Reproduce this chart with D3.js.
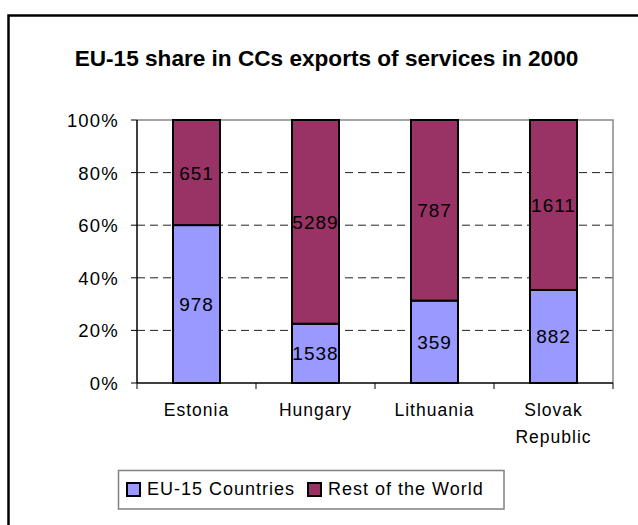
<!DOCTYPE html>
<html>
<head>
<meta charset="utf-8">
<script src="https://cdn.jsdelivr.net/npm/d3@7"></script>
<style>
    body { margin: 0; background: #fff; }
    svg { display: block; font-family: Arial, "Liberation Sans", sans-serif; }
</style>
</head>
<body>
<svg id="chart" width="638" height="525"></svg>
<script>
// Data
const categories = ['Estonia', 'Hungary', 'Lithuania', 'Slovak Republic'];
const eu15 = [978, 1538, 359, 882];
const restOfWorld = [651, 5289, 787, 1611];
const seriesNames = ['EU-15 Countries', 'Rest of the World'];
const seriesColors = ['#9999ff', '#993366'];
const yTicks = [0, 0.2, 0.4, 0.6, 0.8, 1];

const svg = d3.select('#chart');

// outer frame (cut off at right and bottom in the original)
svg.append('rect')
    .attr('x', 8.5).attr('y', 15.5)
    .attr('width', 660).attr('height', 540)
    .attr('fill', 'none')
    .attr('stroke', '#000')
    .attr('stroke-width', 2.5);

// title
svg.append('text')
    .attr('x', 326.5).attr('y', 66)
    .attr('text-anchor', 'middle')
    .attr('font-size', 22.6)
    .attr('font-weight', 'bold')
    .text('EU-15 share in CCs exports of services in 2000');

const plot = { left: 137, right: 613, top: 120, bottom: 383 };

const x = d3.scaleBand()
    .domain(categories)
    .range([plot.left, plot.right])
    .paddingInner(0.605)
    .paddingOuter(0.3025);

const y = d3.scaleLinear().domain([0, 1]).range([plot.bottom, plot.top]);

const rows = categories.map((c, i) => ({ cat: c, eu: eu15[i], rest: restOfWorld[i] }));
const stacked = d3.stack().keys(['eu', 'rest']).offset(d3.stackOffsetExpand)(rows);

// gridlines
svg.append('g')
    .selectAll('line')
    .data(yTicks.filter(t => t > 0 && t < 1))
    .join('line')
    .attr('x1', plot.left).attr('x2', plot.right)
    .attr('y1', d => y(d)).attr('y2', d => y(d))
    .attr('stroke', '#222')
    .attr('stroke-width', 1)
    .attr('stroke-dasharray', '8,5');

// plot border top/right (grey)
svg.append('path')
    .attr('d', `M${plot.left},${y(1)}H${plot.right}V${plot.bottom}`)
    .attr('fill', 'none')
    .attr('stroke', '#888')
    .attr('stroke-width', 1.5);

// bars
const layer = svg.append('g')
    .selectAll('g')
    .data(stacked)
    .join('g')
    .attr('fill', (d, i) => seriesColors[i]);

layer.selectAll('rect')
    .data(d => d)
    .join('rect')
    .attr('x', d => x(d.data.cat))
    .attr('width', x.bandwidth())
    .attr('y', d => y(d[1]))
    .attr('height', d => y(d[0]) - y(d[1]))
    .attr('stroke', '#000')
    .attr('stroke-width', 2);

// value labels
layer.selectAll('text')
    .data((d, i) => d.map(v => ({ v, key: d.key })))
    .join('text')
    .attr('x', d => x(d.v.data.cat) + x.bandwidth() / 2)
    .attr('y', d => (y(d.v[0]) + y(d.v[1])) / 2 + 7)
    .attr('text-anchor', 'middle')
    .attr('fill', '#000')
    .attr('font-size', 19)
    .attr('letter-spacing', 1)
    .text(d => d.v.data[d.key]);

// y axis
const yAxis = svg.append('g').attr('transform', `translate(${plot.left},0)`);
yAxis.append('line')
    .attr('y1', plot.top).attr('y2', plot.bottom)
    .attr('stroke', '#000').attr('stroke-width', 1.5);
yAxis.selectAll('line.tick')
    .data(yTicks)
    .join('line')
    .attr('class', 'tick')
    .attr('x1', -6).attr('x2', 0)
    .attr('y1', d => y(d)).attr('y2', d => y(d))
    .attr('stroke', '#000');
yAxis.selectAll('text')
    .data(yTicks)
    .join('text')
    .attr('x', -18)
    .attr('y', d => y(d) + 7)
    .attr('text-anchor', 'end')
    .attr('font-size', 18.5)
    .attr('letter-spacing', 1.2)
    .text(d => d3.format('.0%')(d));

// x axis
const xAxis = svg.append('g');
xAxis.append('line')
    .attr('x1', plot.left).attr('x2', plot.right)
    .attr('y1', plot.bottom).attr('y2', plot.bottom)
    .attr('stroke', '#000').attr('stroke-width', 1.5);
const edges = categories.map(c => x(c) - x.step() * x.paddingInner() / 2)
    .concat([plot.right]);
xAxis.selectAll('line.tick')
    .data(edges)
    .join('line')
    .attr('class', 'tick')
    .attr('x1', d => d).attr('x2', d => d)
    .attr('y1', plot.bottom).attr('y2', plot.bottom + 6)
    .attr('stroke', '#000');
xAxis.selectAll('text')
    .data(categories)
    .join('text')
    .attr('x', d => x(d) + x.bandwidth() / 2)
    .attr('y', 416)
    .attr('text-anchor', 'middle')
    .attr('font-size', 17.5)
    .attr('letter-spacing', 1)
    .each(function (d) {
        const words = d.split(' ');
        d3.select(this).selectAll('tspan')
            .data(words)
            .join('tspan')
            .attr('x', x(d) + x.bandwidth() / 2)
            .attr('dy', (w, i) => i === 0 ? 0 : 27)
            .text(w => w);
    });

// legend
const legend = svg.append('g');
legend.append('rect')
    .attr('x', 118.5).attr('y', 470.5)
    .attr('width', 385.5).attr('height', 38.5)
    .attr('fill', '#fff')
    .attr('stroke', '#808080')
    .attr('stroke-width', 1.5);
const legendX = [127, 308];
seriesNames.forEach((name, i) => {
    legend.append('rect')
        .attr('x', legendX[i]).attr('y', 483)
        .attr('width', 13).attr('height', 13)
        .attr('fill', seriesColors[i])
        .attr('stroke', '#000')
        .attr('stroke-width', 2);
    legend.append('text')
        .attr('x', legendX[i] + 20)
        .attr('y', 495)
        .attr('font-size', 18)
        .attr('letter-spacing', 1)
        .text(name);
});
</script>
</body>
</html>
